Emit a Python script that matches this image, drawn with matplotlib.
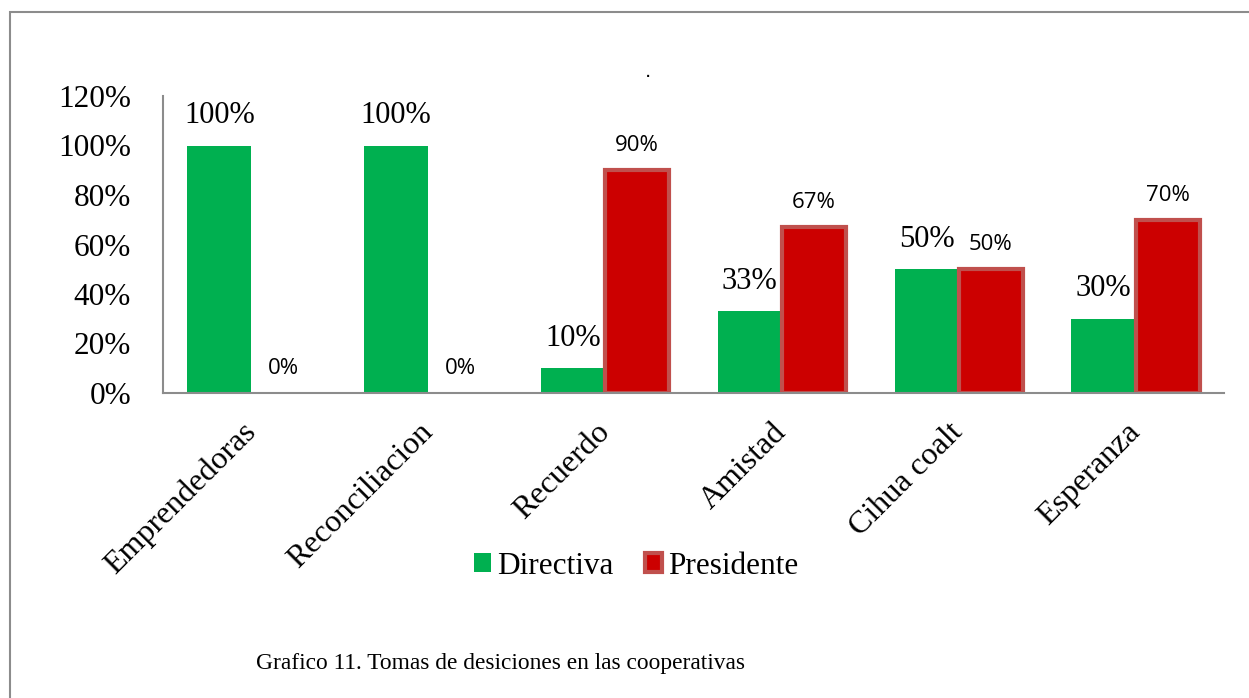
import numpy as np
import matplotlib.pyplot as plt
from matplotlib.patches import Rectangle

# Data
categorias = ["Emprendedoras", "Reconciliacion", "Recuerdo", "Amistad", "Cihua coalt", "Esperanza"]
directiva = [1.00, 1.00, 0.10, 0.33, 0.50, 0.30]
presidente = [0.00, 0.00, 0.90, 0.67, 0.50, 0.70]

serif = "Liberation Serif"
sans = "Open Sans"
verde = "#00B050"
rojo = "#CC0000"
borde = "#C0504D"

W, H = 1249, 698
fig = plt.figure(figsize=(W / 100, H / 100), dpi=100)

# axes placement in pixel coordinates
x0, x1, y0, y1 = 163, 1224, 393, 96
ax = fig.add_axes([x0 / W, 1 - y0 / H, (x1 - x0) / W, (y0 - y1) / H])

x = np.arange(len(categorias))
w = 0.363
b1 = ax.bar(x - w / 2, directiva, w, color=verde, label="Directiva")
b2 = ax.bar(x + w / 2, presidente, w, color=rojo, edgecolor=borde, linewidth=3,
            label="Presidente")

for xi, v in zip(x - w / 2, directiva):
    ax.annotate(f"{v:.0%}", (xi, v), xytext=(0, 11), textcoords="offset points",
                ha="center", va="bottom", fontsize=22, family=serif)
for xi, v in zip(x + w / 2, presidente):
    ax.annotate(f"{v:.0%}", (xi, v), xytext=(0, 10), textcoords="offset points",
                ha="center", va="bottom", fontsize=16, family=sans)

ax.set_xlim(-0.5, len(categorias) - 0.5)
ax.set_ylim(0, 1.2)
ax.set_yticks(np.arange(0, 1.21, 0.2))
ax.set_yticklabels([f"{t:.0%}" for t in np.arange(0, 1.21, 0.2)], family=serif, fontsize=22.5)
ax.set_xticks(x)
ax.set_xticklabels(categorias, rotation=45, ha="right", va="center", rotation_mode="anchor",
                   family=serif, fontsize=23)
ax.tick_params(axis="both", length=0)
ax.tick_params(axis="y", pad=23)
ax.tick_params(axis="x", pad=25)
for s in ["top", "right"]:
    ax.spines[s].set_visible(False)
for s in ["left", "bottom"]:
    ax.spines[s].set_color("#8C8C8C")
    ax.spines[s].set_linewidth(1.5)

ax.set_title(".", fontsize=14, pad=14, x=(648 - x0) / (x1 - x0))

leg = fig.legend(loc="center", bbox_to_anchor=(636 / W, 1 - 566 / H), ncol=2, frameon=False,
                 prop={"family": serif, "size": 22.5}, handlelength=0.55, handleheight=0.55,
                 handletextpad=0.2, columnspacing=1.0)

# zero-height bars show no outline
for r, v in zip(b2, presidente):
    if v == 0:
        r.set_linewidth(0)

fig.text(501 / W, 1 - 664 / H, "Grafico 11. Tomas de desiciones en las cooperativas",
         ha="center", va="center", family=serif, fontsize=16.8)

# outer frame
fig.patches.append(Rectangle((10 / W, -0.1), 1.2, 1 - 12 / H + 0.1, transform=fig.transFigure,
                             fill=False, edgecolor="#8C8C8C", linewidth=1.5))

fig.savefig("out.png", dpi=100)
